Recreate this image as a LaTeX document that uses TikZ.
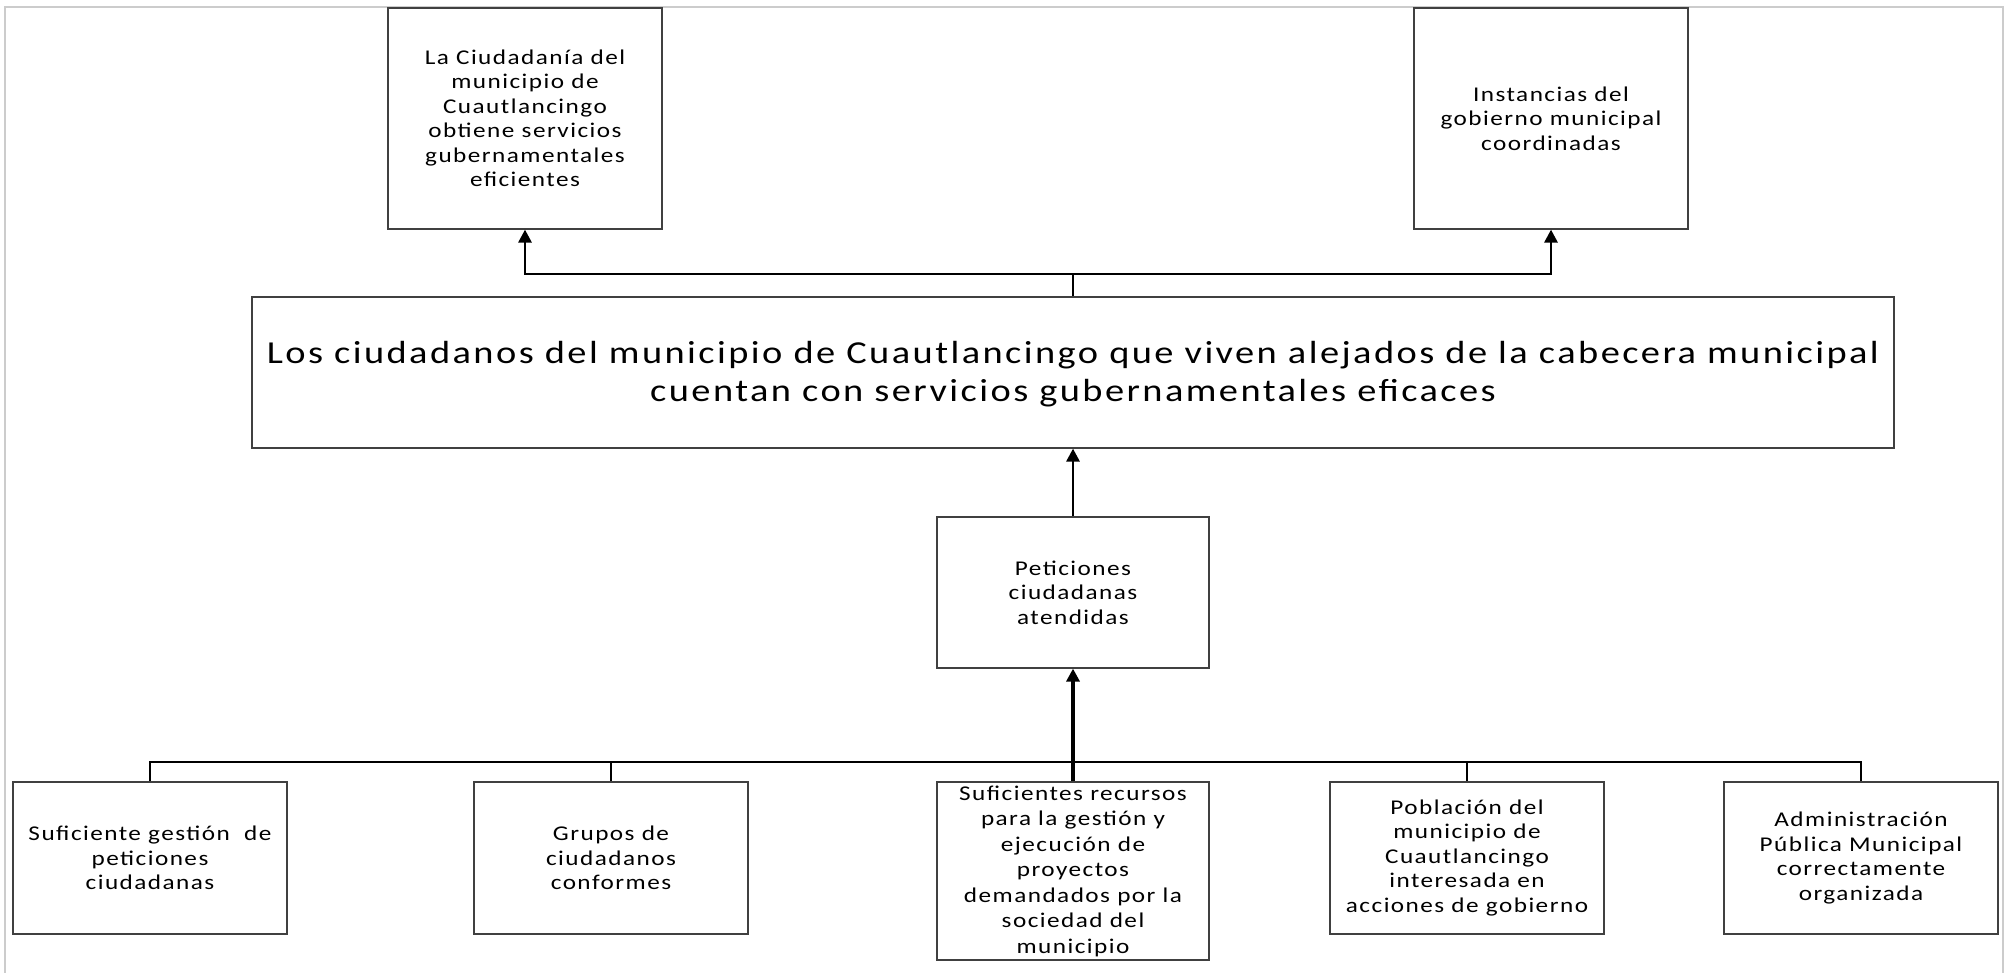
\documentclass[tikz,border=0pt]{standalone}
\usepackage{fontspec}
\setmainfont{Carlito}
\newfontfamily\spacedfont[LetterSpace=7,FakeStretch=1.2]{Carlito}
\newfontfamily\mainspacedfont[LetterSpace=7.6,FakeStretch=1.2]{Carlito}
\usetikzlibrary{arrows.meta}
\begin{document}
\begin{tikzpicture}[x=1pt,y=-1pt,
  box/.style={draw=black!75, line width=1.2pt, inner sep=0pt, align=center, font=\spacedfont\fontsize{21}{24.5}\selectfont},
  conn/.style={line width=2.9pt},
  arr/.style={conn, -{Triangle[width=13pt,length=13pt]}}]
\useasboundingbox (0,0) rectangle (2007,972);
\draw[black!20, line width=1.5pt] (5,980) -- (5,7) -- (2003,7) -- (2003,980);
\node[box, minimum width=274pt, minimum height=221pt] (n1) at (525,118.5) {La Ciudadanía del\\municipio de\\Cuautlancingo\\obtiene servicios\\gubernamentales\\eficientes};
\node[box, minimum width=274pt, minimum height=221pt] (n2) at (1551,118.5) {Instancias del\\gobierno municipal\\coordinadas};
\node[box, minimum width=1642pt, minimum height=151pt, font=\mainspacedfont\fontsize{32}{38.5}\selectfont] (main) at (1073,372.5) {\raisebox{9.5pt}[0pt][0pt]{\begin{tabular}[t]{@{}c@{}}Los ciudadanos del municipio de Cuautlancingo que viven alejados de la cabecera municipal\\cuentan con servicios gubernamentales eficaces\end{tabular}}};
\node[box, minimum width=272pt, minimum height=151pt] (pet) at (1073,592.5) {Peticiones\\ciudadanas\\atendidas};
\node[box, minimum width=274pt, minimum height=152pt] (a) at (150,858) {Suficiente gestión~~de\\peticiones\\ciudadanas};
\node[box, minimum width=274pt, minimum height=152pt] (b) at (611,858) {Grupos de\\ciudadanos\\conformes};
\node[box, minimum width=272pt, minimum height=178pt, font=\spacedfont\fontsize{21}{25.5}\selectfont] (c) at (1073,871) {Suficientes recursos\\para la gestión y\\ejecución de\\proyectos\\demandados por la\\sociedad del\\municipio};
\node[box, minimum width=274pt, minimum height=152pt] (d) at (1467,858) {Población del\\municipio de\\Cuautlancingo\\interesada en\\acciones de gobierno};
\node[box, minimum width=274pt, minimum height=152pt] (e) at (1861,858) {Administración\\Pública Municipal\\correctamente\\organizada};
\coordinate (tj) at (1073,274);
\coordinate (bj) at (1073,762);
\draw[conn] (main.north) -- (tj);
\draw[arr] (tj) -| (n1.south);
\draw[arr] (tj) -| (n2.south);
\draw[arr] (pet.north) -- (main.south);
\draw[conn] (bj) -| (a.north);
\draw[conn] (bj) -| (b.north);
\draw[conn] (bj) -| (d.north);
\draw[conn] (bj) -| (e.north);
\draw[arr, line width=3.5pt] (c.north) -- (pet.south);
\end{tikzpicture}
\end{document}
